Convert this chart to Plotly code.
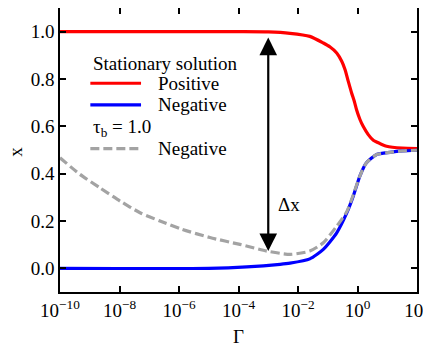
import plotly.graph_objects as go

# Data (Gamma values, x values)
gamma_pos = [1e-10, 1e-4, 1e-3, 5.4e-3, 2.5e-2, 7.1e-2, 0.12, 0.2, 0.295, 0.38, 0.49, 0.63, 0.78, 0.93,
             1.2, 1.55, 2.3, 3.4, 5.75, 9.5, 32, 100]
x_pos = [1.0, 1.0, 0.999, 0.993, 0.98, 0.952, 0.935, 0.91, 0.875, 0.84, 0.79, 0.742, 0.706, 0.67,
         0.63, 0.60, 0.565, 0.541, 0.527, 0.516, 0.508, 0.506]

gamma_neg = [1e-10, 1e-5, 1.9e-4, 2.5e-3, 5.4e-3, 2.5e-2, 7.1e-2, 0.2, 0.44, 0.72, 1.2, 2.0, 4.4, 12.3, 32, 100]
x_neg = [0.0, 0.0, 0.006, 0.017, 0.022, 0.04, 0.08, 0.15, 0.235, 0.305, 0.39, 0.446, 0.481, 0.49, 0.496, 0.499]

gamma_tau = [1e-10, 4.7e-10, 2.2e-9, 1.05e-8, 4.9e-8, 2.3e-7, 1.26e-6, 1.1e-5, 1.12e-4, 8.9e-4,
             5.4e-3, 2.5e-2, 7.1e-2, 0.2, 0.44, 0.72, 1.2, 2.0, 4.4, 12.3, 32, 100]
x_tau = [0.467, 0.397, 0.34, 0.284, 0.235, 0.20, 0.165, 0.13, 0.101, 0.073,
         0.059, 0.073, 0.108, 0.178, 0.24, 0.31, 0.39, 0.446, 0.481, 0.49, 0.496, 0.499]

x_tick_vals = [1e-10, 1e-8, 1e-6, 1e-4, 1e-2, 1e0, 1e2]
x_tick_text = ["10<sup>−10</sup>", "10<sup>−8</sup>", "10<sup>−6</sup>", "10<sup>−4</sup>",
               "10<sup>−2</sup>", "10<sup>0</sup>", "10<sup>2</sup>"]
y_tick_vals = [0.0, 0.2, 0.4, 0.6, 0.8, 1.0]

arrow_gamma_exp = -3
arrow_low, arrow_high = 0.067, 0.975

RED = "#ff0000"
BLUE = "#0000ff"
GRAY = "#a3a3a3"
FONT = "Times New Roman, Liberation Serif, Times, serif"
FS = 19

fig = go.Figure()
fig.add_trace(go.Scatter(x=gamma_pos, y=x_pos, mode="lines", showlegend=False,
                         line=dict(color=RED, width=3.2, shape="spline", smoothing=0.6)))
fig.add_trace(go.Scatter(x=gamma_neg, y=x_neg, mode="lines", showlegend=False,
                         line=dict(color=BLUE, width=3.2, shape="spline", smoothing=0.6)))
fig.add_trace(go.Scatter(x=gamma_tau, y=x_tau, mode="lines", showlegend=False,
                         line=dict(color=GRAY, width=3.2, dash="9px,4px", shape="spline", smoothing=0.6)))

# Double headed arrow and label
fig.add_annotation(x=arrow_gamma_exp, y=arrow_high, ax=arrow_gamma_exp, ay=arrow_low,
                   xref="x", yref="y", axref="x", ayref="y", text="", showarrow=True,
                   arrowhead=2, arrowside="end+start", arrowsize=1.6, arrowwidth=2.2,
                   arrowcolor="black", standoff=0, startstandoff=0)
fig.add_annotation(x=-2.75, y=0.27, xref="x", yref="y", text="Δx", showarrow=False,
                   xanchor="left", yanchor="middle", font=dict(family=FONT, size=FS, color="black"))

# Manual legend
def leg_line(y, color, dash=None):
    fig.add_shape(type="line", xref="paper", yref="paper", x0=0.085, x1=0.227, y0=y, y1=y,
                  line=dict(color=color, width=3.2, dash=dash))

def leg_text(x, y, t):
    fig.add_annotation(x=x, y=y, xref="paper", yref="paper", text=t, showarrow=False,
                       xanchor="left", yanchor="middle", font=dict(family=FONT, size=FS, color="black"))

leg_text(0.088, 0.806, "Stationary solution")
leg_line(0.735, RED)
leg_text(0.27, 0.735, "Positive")
leg_line(0.659, BLUE)
leg_text(0.27, 0.659, "Negative")
leg_text(0.088, 0.577, "τ<sub>b</sub> = 1.0")
leg_line(0.505, GRAY, dash="9px,4px")
leg_text(0.27, 0.505, "Negative")

# Axis titles
fig.add_annotation(x=0.5, y=-0.155, xref="paper", yref="paper", text="Γ", showarrow=False,
                   xanchor="center", yanchor="middle", font=dict(family=FONT, size=FS, color="black"))
fig.add_annotation(x=-0.124, y=0.493, xref="paper", yref="paper", text="x", showarrow=False,
                   textangle=-90, xanchor="center", yanchor="middle",
                   font=dict(family=FONT, size=FS, color="black"))

axis_common = dict(showline=True, linecolor="black", linewidth=1.5, mirror="ticks",
                   ticks="inside", ticklen=6, tickwidth=1.5, tickcolor="black",
                   showgrid=False, zeroline=False, automargin=False,
                   tickfont=dict(family=FONT, size=FS, color="black"))

fig.update_xaxes(type="log", range=[-10, 2], tickvals=x_tick_vals, ticktext=x_tick_text,
                 **axis_common)
fig.update_yaxes(range=[-0.1, 1.1], tickvals=y_tick_vals, tickformat=".1f",
                 **axis_common)

# The page body adds an 8px offset; margins compensate so the plot area lands where the reference has it
fig.update_layout(width=431, height=346, margin=dict(l=52, r=22, t=0, b=62),
                  plot_bgcolor="white", paper_bgcolor="white",
                  font=dict(family=FONT, size=FS, color="black"))

fig.write_html("out.html")
